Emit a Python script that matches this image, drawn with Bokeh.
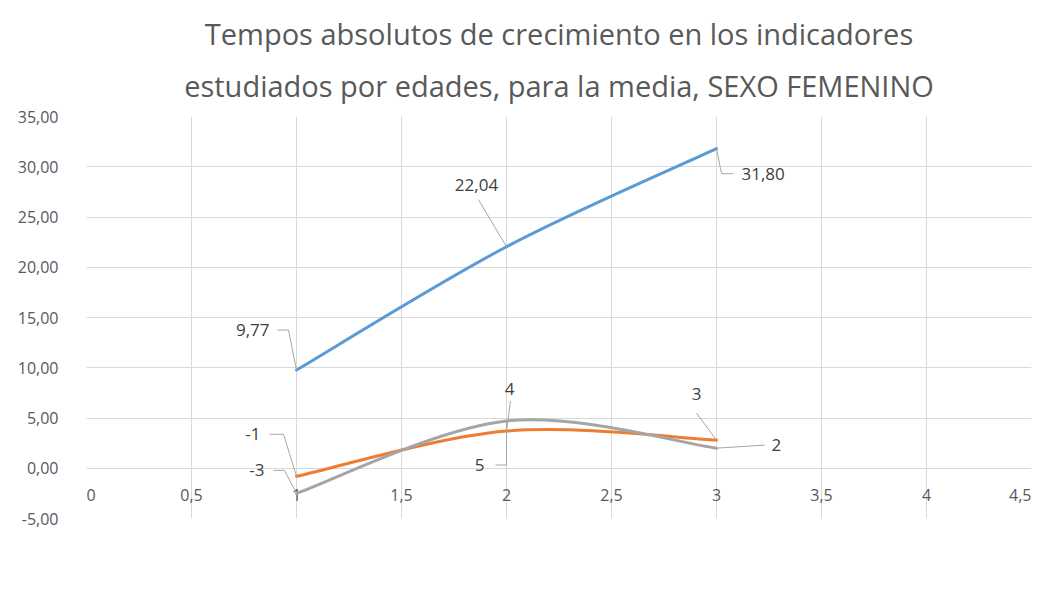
import math
from bokeh.plotting import figure
from bokeh.models import (ColumnDataSource, Range1d, FixedTicker, CustomJSTickFormatter,
                          Legend, LegendItem, Title)
from bokeh.core.properties import value
from bokeh.embed import file_html
from bokeh.resources import INLINE

# ---------------- data ----------------
edades = [1, 2, 3]
salto = [9.77, 22.04, 31.80]
abdominales = [-0.8, 3.7, 2.8]
flexiones = [-2.5, 4.7, 2.0]

series_names = ["Salto s/c de impulso(cm)", "Abdominales 30 seg, (rep)",
                "Flexiones de codo 30 seg, (rep)"]
series_values = [salto, abdominales, flexiones]
series_decimals = [2, 0, 0]
colors = ["#5B9BD5", "#ED7D31", "#A5A5A5"]

x_ticks = [0, 0.5, 1, 1.5, 2, 2.5, 3, 3.5, 4, 4.5]
y_ticks = [-5, 0, 5, 10, 15, 20, 25, 30, 35]
x_tick_labels = [str(t).replace(".", ",") for t in x_ticks]

title_lines = ["Tempos absolutos de crecimiento en los indicadores",
               "estudiados por edades, para la media, SEXO FEMENINO"]

# ---------------- layout ----------------
FONT = "Open Sans"
TXT = "#595959"
FW, FH = 945, 402          # plot-area size in px
BL, BR, BT, BB = 86, 6, 116, 0
px_x = FW / (x_ticks[-1] - x_ticks[0])
px_y = FH / (y_ticks[-1] - y_ticks[0])

p = figure(frame_width=FW, frame_height=FH, output_backend="svg", toolbar_location=None,
           x_range=Range1d(x_ticks[0], x_ticks[-1]), y_range=Range1d(y_ticks[0], y_ticks[-1]),
           x_axis_location=None,
           min_border_left=BL, min_border_right=BR, min_border_top=BT, min_border_bottom=BB,
           background_fill_color="white", border_fill_color="white")
p.outline_line_color = None

# second line is nearest the plot area, first line above it
for line, so in zip(reversed(title_lines), [23, 0]):
    t = Title(text=line, align="center", text_font=FONT, text_font_size="29px",
              text_font_style="normal", text_color=TXT, standoff=so)
    p.add_layout(t, "above")

# y axis
p.yaxis.ticker = FixedTicker(ticks=y_ticks)
p.yaxis.formatter = CustomJSTickFormatter(code="return tick.toFixed(2).replace('.', ',');")
p.yaxis.axis_line_color = None
p.yaxis.major_tick_line_color = None
p.yaxis.minor_tick_line_color = None
p.yaxis.major_label_text_font = FONT
p.yaxis.major_label_text_font_size = "16px"
p.yaxis.major_label_text_color = TXT
p.yaxis.major_label_standoff = 22

p.xgrid.ticker = FixedTicker(ticks=x_ticks)
p.ygrid.ticker = FixedTicker(ticks=y_ticks)
p.grid.grid_line_color = "#d9d9d9"
p.grid.grid_line_width = 1

# x tick labels sit next to the horizontal axis, which crosses at y = 0
# (the outermost labels are aligned inward so they stay inside the plot area)
tick_groups = [
    ("left", x_ticks[:1], x_tick_labels[:1]),
    ("center", x_ticks[1:-1], x_tick_labels[1:-1]),
    ("right", x_ticks[-1:], x_tick_labels[-1:]),
]
for al, xs, labs in tick_groups:
    p.text(x=xs, y=[0] * len(xs), text=labs, text_align=al,
           text_baseline="middle", y_offset=27, text_font=value(FONT), text_font_size="16px",
           text_color=TXT)

# ---------------- smoothed lines (Excel-like Catmull-Rom Bezier) ----------------
renderers = []
for vals, col in zip(series_values, colors):
    pts = list(zip(edades, vals))
    n = len(pts)
    d = dict(x0=[], y0=[], x1=[], y1=[], cx0=[], cy0=[], cx1=[], cy1=[])
    for k in range(n - 1):
        pm = pts[max(k - 1, 0)]
        p0 = pts[k]
        p1 = pts[k + 1]
        p2 = pts[min(k + 2, n - 1)]
        d["x0"].append(p0[0]); d["y0"].append(p0[1])
        d["x1"].append(p1[0]); d["y1"].append(p1[1])
        d["cx0"].append(p0[0] + (p1[0] - pm[0]) / 6); d["cy0"].append(p0[1] + (p1[1] - pm[1]) / 6)
        d["cx1"].append(p1[0] - (p2[0] - p0[0]) / 6); d["cy1"].append(p1[1] - (p2[1] - p0[1]) / 6)
    r = p.bezier(x0="x0", y0="y0", x1="x1", y1="y1", cx0="cx0", cy0="cy0", cx1="cx1", cy1="cy1",
                 source=ColumnDataSource(d), line_color=col, line_width=3, line_cap="round")
    renderers.append(r)

# ---------------- data labels with leader lines (offsets in px) ----------------
label_specs = [
    (0, 0, (-8, -40), (-19, -40), (-27, -40), "right"),
    (0, 1, (-28, -47), (-28, -47), (-30, -62), "center"),
    (0, 2, (5, 25), (17, 25), (25, 25), "left"),
    (1, 0, (-13, -42), (-27, -42), (-36, -42), "right"),
    (1, 1, (4, -30), (4, -30), (3, -42), "center"),
    (1, 2, (-20, -27), (-20, -27), (-20, -46), "center"),
    (2, 0, (-12, -23), (-23, -23), (-32, -23), "right"),
    (2, 1, (0, 44), (-11, 44), (-22, 44), "right"),
    (2, 2, (48, -3), (48, -3), (55, -3), "left"),
]


def fmt(v, dec):
    if dec == 0:
        r = int(math.floor(abs(v) + 0.5)) * (1 if v >= 0 else -1)
        return str(r)
    return f"{v:.{dec}f}".replace(".", ",")


lx, ly = [], []
texts = {"left": dict(x=[], y=[], t=[]), "right": dict(x=[], y=[], t=[]), "center": dict(x=[], y=[], t=[])}
for s, i, el, en, tx, al in label_specs:
    xv = edades[i]
    yv = series_values[s][i]
    lx.append([xv, xv + el[0] / px_x, xv + en[0] / px_x])
    ly.append([yv, yv - el[1] / px_y, yv - en[1] / px_y])
    texts[al]["x"].append(xv + tx[0] / px_x)
    texts[al]["y"].append(yv - tx[1] / px_y)
    texts[al]["t"].append(fmt(yv, series_decimals[s]))

p.multi_line(xs=lx, ys=ly, line_color="#a6a6a6", line_width=1)
for al, dd in texts.items():
    if dd["x"]:
        p.text(x="x", y="y", text="t", source=ColumnDataSource(dd), text_align=al,
               text_baseline="middle", text_font=value(FONT), text_font_size="17px",
               text_color="#404040")

# ---------------- legend (below the plot area) ----------------
legend = Legend(items=[LegendItem(label=n, renderers=[r]) for n, r in zip(series_names, renderers)],
                orientation="horizontal", location="center",
                label_text_font=FONT, label_text_font_size="17px", label_text_color=TXT,
                glyph_width=47, glyph_height=20, label_height=20, label_standoff=3, spacing=46,
                border_line_color=None, background_fill_alpha=0, padding=0, margin=31)
p.add_layout(legend, "below")

open("out.html", "w").write(file_html(p, INLINE))
